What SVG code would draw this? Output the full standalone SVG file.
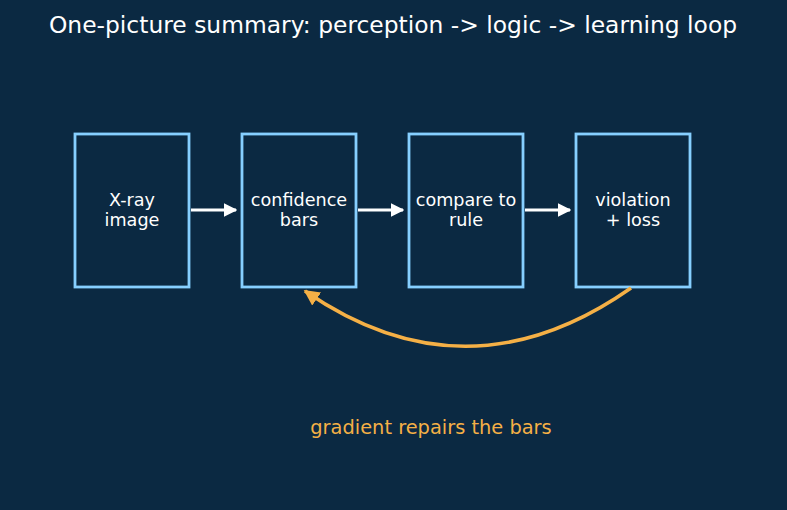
<svg xmlns="http://www.w3.org/2000/svg" width="787" height="510" viewBox="0 0 787 510">
<defs>
<style>
.box{fill:#0b2942;stroke:#86cfff;stroke-width:2.8}
.lbl{font-family:"DejaVu Sans",sans-serif;font-size:17.6px;fill:#ffffff;text-anchor:middle}
.flow{stroke:#ffffff;stroke-width:3;fill:none}
</style>
<marker id="wh" viewBox="0 0 10 10" refX="9" refY="5" markerWidth="4.5" markerHeight="4.5" orient="auto" markerUnits="strokeWidth">
<path d="M0,0 L10,5 L0,10 z" fill="#ffffff"/>
</marker>
<marker id="or" viewBox="0 0 10 10" refX="9" refY="5" markerWidth="4.5" markerHeight="4.5" orient="auto" markerUnits="strokeWidth">
<path d="M0,0 L10,5 L0,10 z" fill="#f5b046"/>
</marker>
</defs>
<rect width="787" height="510" fill="#0b2942"/>
<text x="393" y="33" font-family="DejaVu Sans, sans-serif" font-size="23.4" fill="#ffffff" text-anchor="middle">One-picture summary: perception -&gt; logic -&gt; learning loop</text>
<g id="n1"><rect class="box" x="75" y="134" width="114" height="153"/><text class="lbl" x="132" y="206">X-ray</text><text class="lbl" x="132" y="226">image</text></g>
<g id="n2"><rect class="box" x="242" y="134" width="114" height="153"/><text class="lbl" x="299" y="206">confidence</text><text class="lbl" x="299" y="226">bars</text></g>
<g id="n3"><rect class="box" x="409" y="134" width="114" height="153"/><text class="lbl" x="466" y="206">compare to</text><text class="lbl" x="466" y="226">rule</text></g>
<g id="n4"><rect class="box" x="576" y="134" width="114" height="153"/><text class="lbl" x="633" y="206">violation</text><text class="lbl" x="633" y="226">+ loss</text></g>
<g id="connectors">
<line class="flow" x1="191" y1="210" x2="236" y2="210" marker-end="url(#wh)"/>
<line class="flow" x1="358" y1="210" x2="403" y2="210" marker-end="url(#wh)"/>
<line class="flow" x1="525" y1="210" x2="570" y2="210" marker-end="url(#wh)"/>
<path d="M631,288 Q467,403 305,291" stroke="#f5b046" stroke-width="3.5" fill="none" marker-end="url(#or)"/>
</g>
<text x="431" y="434" font-family="DejaVu Sans, sans-serif" font-size="19.4" fill="#f5b046" text-anchor="middle">gradient repairs the bars</text>
</svg>
